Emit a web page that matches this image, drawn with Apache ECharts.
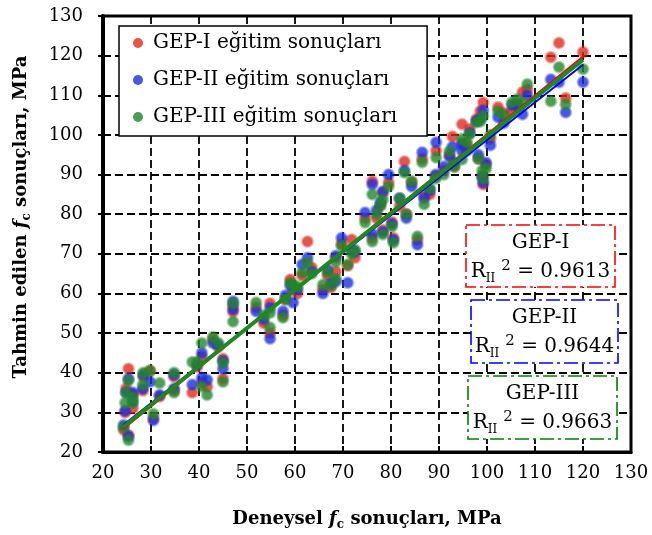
<!DOCTYPE html>
<html>
<head>
  <meta charset="UTF-8">
  <title>GEP egitim sonuclari</title>
  <script src="https://cdn.jsdelivr.net/npm/echarts@6/dist/echarts.min.js"></script>
</head>
<body style="margin:0">
<div id="main" style="width:652px;height:535px"></div>
<script>
  // deneysel fc (x) ve her modelin tahmini (y)
  var fcExp = [24.3, 25.3, 24.6, 24.8, 25.3, 26.2, 26.2, 28.3, 28.4, 29.8, 30.5, 31.8, 34.8, 34.8, 38.6, 39.6,
    40.6, 40.6, 41.7, 42.9, 44.0, 45.0, 45.0, 47.1, 47.1, 51.9, 53.5, 54.8, 54.8, 57.5, 58.0, 59.0, 59.6, 60.5,
    61.5, 62.6, 63.5, 65.8, 66.8, 67.5, 68.5, 68.5, 69.7, 71.0, 71.8, 72.5, 74.6, 76.1, 76.1, 77.0, 77.8, 78.3,
    78.3, 79.5, 80.2, 80.5, 81.8, 82.8, 83.2, 84.3, 85.5, 86.5, 86.9, 88.1, 89.3, 89.4, 91.0, 92.2, 92.8, 93.2,
    94.8, 94.8, 95.8, 96.4, 97.8, 98.2, 98.6, 99.0, 99.2, 99.8, 99.2, 100.7, 102.3, 103.5, 105.2, 106.3, 107.4,
    108.4, 113.3, 115.0, 116.4, 120.0];
  var gepI = [25.6, 24.2, 30.0, 36.0, 41.0, 31.0, 34.5, 35.5, 39.0, 40.5, 28.5, 34.0, 39.0, 35.5, 35.0, 41.5,
    44.0, 37.5, 36.5, 48.5, 46.5, 38.5, 43.5, 55.4, 57.0, 56.5, 52.5, 57.5, 50.0, 54.5, 58.5, 63.5, 61.0, 60.0,
    64.5, 73.1, 66.5, 61.0, 64.5, 61.5, 65.5, 69.0, 72.5, 67.0, 73.6, 69.0, 79.0, 88.3, 74.0, 79.0, 82.0, 85.5,
    76.0, 88.0, 78.0, 74.0, 82.0, 93.3, 80.0, 88.0, 73.5, 94.0, 84.5, 85.0, 89.5, 96.0, 91.0, 95.0, 99.6, 92.0,
    102.7, 98.0, 97.5, 101.5, 104.0, 94.0, 106.0, 89.5, 87.5, 92.5, 108.2, 99.0, 107.0, 105.5, 106.0, 108.0, 110.8,
    111.5, 119.6, 123.2, 109.3, 120.9];
  var gepII = [26.8, 24.0, 30.4, 35.0, 38.5, 32.8, 35.0, 36.0, 39.5, 37.7, 28.0, 34.4, 39.5, 36.0, 37.0, 42.0,
    45.0, 38.7, 38.2, 47.5, 47.0, 41.0, 43.0, 58.0, 56.0, 55.5, 53.5, 56.4, 48.6, 55.5, 59.5, 62.0, 57.7, 61.0,
    67.3, 69.0, 65.5, 60.0, 66.0, 62.5, 63.0, 69.5, 74.0, 62.7, 71.0, 70.5, 80.4, 87.5, 75.0, 81.0, 83.0, 85.7,
    75.5, 90.0, 77.5, 73.5, 84.0, 91.0, 79.0, 87.0, 72.3, 95.6, 84.0, 86.0, 90.0, 98.1, 92.0, 94.5, 97.0, 93.0,
    96.0, 97.5, 96.0, 100.5, 103.5, 95.0, 104.0, 89.5, 88.0, 93.0, 106.2, 97.4, 104.5, 103.0, 107.5, 107.5, 105.2,
    110.0, 114.0, 113.3, 105.7, 113.3];
  var gepIII = [26.2, 23.0, 32.4, 35.0, 38.0, 32.4, 33.8, 37.0, 40.0, 40.5, 29.6, 37.4, 40.0, 35.0, 42.7, 42.7,
    47.5, 36.5, 34.4, 49.0, 47.5, 37.7, 42.5, 52.9, 57.5, 57.7, 54.5, 55.1, 51.4, 53.9, 58.5, 62.7, 62.2, 61.7,
    65.3, 67.8, 65.0, 62.2, 65.3, 62.0, 63.7, 68.0, 72.0, 67.3, 70.0, 71.0, 77.9, 85.0, 73.1, 80.0, 82.4, 83.7,
    74.9, 87.0, 76.9, 72.8, 84.0, 90.5, 80.0, 88.3, 74.4, 93.1, 82.5, 86.5, 89.0, 94.3, 90.0, 95.9, 92.5, 92.0,
    93.8, 99.0, 98.1, 100.2, 103.2, 94.0, 103.4, 91.0, 89.0, 91.5, 104.7, 100.0, 106.0, 105.0, 108.2, 109.0, 108.0,
    112.8, 108.5, 117.1, 107.7, 116.6];
  // egilim cizgileri (uc noktalar)
  var fitI = [[24.2, 25.8], [120, 119.8]];
  var fitII = [[24.2, 26.8], [120, 117.7]];
  var fitIII = [[24.2, 26.3], [120, 119.0]];
  var seriesNames = ['GEP-I eğitim sonuçları', 'GEP-II eğitim sonuçları', 'GEP-III eğitim sonuçları'];
  var r2Labels = ['GEP-I', 'GEP-II', 'GEP-III'];
  var r2Values = ['0.9613', '0.9644', '0.9663'];

  var serif = 'DejaVu Serif';

  function pairs(ys) {
    return fcExp.map(function (x, i) {
      return [x, ys[i]];
    });
  }

  function dot(r, g, b) {
    var c = 'rgb(' + r + ',' + g + ',' + b + ')';
    return new echarts.graphic.RadialGradient(0.5, 0.5, 0.5, [
      {offset: 0, color: c},
      {offset: 0.6, color: c},
      {offset: 1, color: 'rgba(' + r + ',' + g + ',' + b + ',0)'}
    ]);
  }

  function scatter(name, ys, col, z) {
    return {
      name: name, type: 'scatter', data: pairs(ys), symbolSize: 14, z: z,
      itemStyle: {color: col}, silent: true
    };
  }

  function fitLine(data, color, width, z) {
    return {
      type: 'line', data: data, symbol: 'none', z: z, silent: true,
      lineStyle: {color: color, width: width}
    };
  }

  var titleRich = {
    b: {fontFamily: serif, fontWeight: 'bold', fontSize: 18, color: '#000', lineHeight: 24},
    f: {fontFamily: serif, fontWeight: 'bold', fontStyle: 'italic', fontSize: 18, color: '#000', lineHeight: 24},
    s: {fontFamily: serif, fontWeight: 'bold', fontSize: 12, color: '#000', lineHeight: 13, verticalAlign: 'bottom'}
  };

  var boxes = [
    {x: 466, y: 225, w: 149, h: 62, color: '#ff0000'},
    {x: 471, y: 300, w: 147, h: 63, color: '#0000ff'},
    {x: 468, y: 376, w: 149, h: 63, color: '#008000'}
  ];
  var graphics = [];
  boxes.forEach(function (bx, i) {
    graphics.push({
      type: 'rect', shape: {x: bx.x, y: bx.y, width: bx.w, height: bx.h}, z: 100,
      style: {fill: '#fff', stroke: bx.color, lineWidth: 1.6, lineDash: [14, 4, 3, 4]}
    });
    graphics.push({
      type: 'text', z: 101,
      style: {
        x: bx.x + bx.w / 2, y: bx.y + 18, text: r2Labels[i], align: 'center', verticalAlign: 'middle',
        fill: '#000', font: '20px "DejaVu Serif"'
      }
    });
    graphics.push({
      type: 'text', z: 101,
      style: {
        x: bx.x + bx.w / 2, y: bx.y + 47, align: 'center', verticalAlign: 'middle',
        text: '{r|R}{s|II}{p|2}{n| = ' + r2Values[i] + '}',
        rich: {
          r: {fontFamily: serif, fontSize: 20, fill: '#000', lineHeight: 26},
          s: {fontFamily: serif, fontSize: 12, fill: '#000', lineHeight: 12, verticalAlign: 'bottom'},
          p: {fontFamily: serif, fontSize: 15, fill: '#000', lineHeight: 15, verticalAlign: 'top', padding: [0, 0, 0, 6]},
          n: {fontFamily: serif, fontSize: 20, fill: '#000', lineHeight: 26}
        }
      }
    });
  });

  var myChart = echarts.init(document.getElementById('main'));
  var option = {
    animation: false,
    backgroundColor: '#fff',
    grid: {
      left: 103, right: 21, top: 16, bottom: 83, show: true,
      borderColor: '#000', borderWidth: 3, outerBoundsMode: 'none'
    },
    legend: {
      data: [
        {name: seriesNames[0], itemStyle: {color: '#e02a1c'}},
        {name: seriesNames[1], itemStyle: {color: '#1a2ee0'}},
        {name: seriesNames[2], itemStyle: {color: '#21862a'}}
      ],
      orient: 'vertical', left: 119, top: 26, icon: 'circle',
      itemWidth: 20, itemHeight: 10, itemGap: 17,
      padding: [7, 30, 9, 14],
      backgroundColor: '#fff', borderColor: '#000', borderWidth: 1.5,
      textStyle: {fontFamily: serif, fontSize: 20, color: '#000'},
      z: 50, selectedMode: false
    },
    xAxis: {
      type: 'value', min: 20, max: 130, interval: 10,
      name: '{b|Deneysel }{f|f}{s|c}{b| sonuçları, MPa}',
      nameLocation: 'middle', nameGap: 55,
      nameTextStyle: {rich: titleRich},
      axisLine: {show: true, lineStyle: {color: '#000', width: 3}},
      axisTick: {show: true, inside: true, length: 6, lineStyle: {color: '#000', width: 2}},
      axisLabel: {color: '#000', fontFamily: serif, fontSize: 18, margin: 12},
      splitLine: {show: true, lineStyle: {color: '#000', type: [8, 4], width: 1.8}}
    },
    yAxis: {
      type: 'value', min: 20, max: 130, interval: 10,
      name: '{b|Tahmin edilen }{f|f}{s|c}{b| sonuçları, MPa}',
      nameLocation: 'middle', nameGap: 70,
      nameTextStyle: {rich: titleRich, padding: [0, 0, 0, 34]},
      axisLine: {show: true, lineStyle: {color: '#000', width: 4}},
      axisTick: {show: true, inside: false, length: 5, lineStyle: {color: '#000', width: 2}},
      axisLabel: {color: '#000', fontFamily: serif, fontSize: 18, margin: 20},
      splitLine: {show: true, lineStyle: {color: '#000', type: [8, 4], width: 1.8}}
    },
    series: [
      scatter(seriesNames[0], gepI, dot(224, 42, 28), 2),
      scatter(seriesNames[1], gepII, dot(26, 46, 224), 3),
      scatter(seriesNames[2], gepIII, dot(33, 134, 42), 4),
      fitLine(fitI, '#ff0000', 2, 5),
      fitLine(fitII, '#0000ff', 2, 6),
      fitLine(fitIII, '#1e8a1e', 4, 7)
    ],
    graphic: graphics
  };
  myChart.setOption(option);
</script>
</body>
</html>
